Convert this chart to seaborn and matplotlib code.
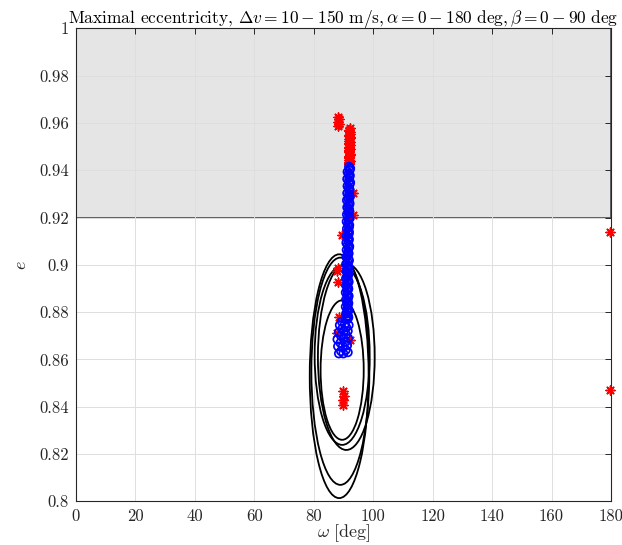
import matplotlib
matplotlib.use("Agg")
import matplotlib.pyplot as plt
import numpy as np
import pandas as pd
import seaborn as sns
from matplotlib.patches import Ellipse
from matplotlib.ticker import FuncFormatter

# Boundary curves in the (omega, e) plane: centre, full width, full height
ell_omega = [88.6, 89.0, 89.6, 91.0, 89.6]
ell_e = [0.8529, 0.8550, 0.8617, 0.8611, 0.8555]
ell_width = [19.8, 19.5, 18.5, 19.1, 14.5]
ell_height = [0.1031, 0.0961, 0.0757, 0.0788, 0.0590]

# Cases flagged with red asterisks
red_omega = [88.2, 88.4, 88.1, 88.4, 88.3,
             92.3, 92.0, 92.2, 91.9, 92.1, 92.0, 91.8, 92.1, 91.9, 92.0, 91.8,
             92.1, 91.9, 92.0, 91.8, 92.0,
             91.8, 92.2, 91.9, 92.1, 91.8, 92.2, 92.0, 91.8, 92.2, 91.9, 92.1,
             91.8, 92.0, 92.2, 91.9,
             93.3, 93.3, 89.4, 88.3, 88.0, 88.3, 88.6, 87.7, 92.2,
             90.0, 90.1, 89.9, 90.0, 179.5, 179.5]
red_e = [0.9626, 0.9615, 0.9605, 0.9595, 0.9585,
         0.9577, 0.9565, 0.9555, 0.9545, 0.9535, 0.9525, 0.9515, 0.9505, 0.9495, 0.9485, 0.9475,
         0.9465, 0.9455, 0.9445, 0.9435, 0.9425,
         0.9571, 0.9560, 0.9550, 0.9540, 0.9530, 0.9520, 0.9510, 0.9500, 0.9490, 0.9480, 0.9470,
         0.9460, 0.9450, 0.9440, 0.9430,
         0.9302, 0.9211, 0.9126, 0.8985, 0.8975, 0.8929, 0.8781, 0.8710, 0.8682,
         0.8465, 0.8447, 0.8428, 0.8407, 0.9140, 0.8471]

# Cases drawn with blue circles
blue_omega = [91.9, 92.1, 91.8, 92.0, 91.9, 92.1, 91.8, 92.0, 91.9, 91.7, 92.0,
              91.8, 91.9, 91.7, 92.0, 91.8, 91.6, 91.9, 91.7, 91.8, 91.6, 91.7,
              91.5, 91.8, 91.6, 91.4, 91.7, 91.5, 91.6, 91.4, 91.5, 91.3, 91.6,
              91.4, 91.5, 91.3, 91.4, 91.6, 91.3, 91.5, 91.4, 91.3, 91.5, 91.4,
              92.3, 91.4, 92.2, 91.3, 92.3, 91.4, 92.1, 91.3, 92.2, 91.2, 92.1,
              91.3, 92.0, 91.2, 92.1, 91.1, 92.0, 91.2, 91.9, 91.1, 91.9, 91.0,
              92.0, 91.1, 91.8, 91.0, 91.9, 90.9, 91.8, 91.0, 91.7, 90.9, 91.8,
              90.9, 91.7, 90.8, 91.8, 90.9, 91.7, 90.8, 91.8, 90.9, 91.7,
              88.5, 90.0, 91.5, 88.2, 89.8, 91.3, 88.0, 90.0, 91.6,
              88.5, 90.2, 91.5, 88.8, 90.5, 91.8,
              89.2, 90.8, 89.0, 90.8, 89.2, 90.9, 89.6, 91.0, 89.5, 90.8]
blue_e = [0.9415, 0.9400, 0.9385, 0.9370, 0.9355, 0.9340, 0.9325, 0.9310, 0.9295, 0.9280, 0.9265,
          0.9250, 0.9235, 0.9220, 0.9205, 0.9190, 0.9175, 0.9160, 0.9145, 0.9130, 0.9115, 0.9100,
          0.9085, 0.9070, 0.9055, 0.9040, 0.9025, 0.9010, 0.8995, 0.8980, 0.8965, 0.8950, 0.8935,
          0.8920, 0.8905, 0.8890, 0.8875, 0.8860, 0.8845, 0.8830, 0.8815, 0.8800, 0.8785, 0.8770,
          0.9408, 0.9393, 0.9378, 0.9363, 0.9348, 0.9333, 0.9318, 0.9303, 0.9288, 0.9273, 0.9258,
          0.9243, 0.9228, 0.9213, 0.9198, 0.9183, 0.9168, 0.9153, 0.9138, 0.9123, 0.9108, 0.9093,
          0.9078, 0.9063, 0.9048, 0.9033, 0.9018, 0.9003, 0.8988, 0.8973, 0.8958, 0.8943, 0.8928,
          0.8913, 0.8898, 0.8883, 0.8868, 0.8853, 0.8838, 0.8823, 0.8808, 0.8793, 0.8778,
          0.8625, 0.8625, 0.8630, 0.8655, 0.8655, 0.8660, 0.8685, 0.8690, 0.8690,
          0.8715, 0.8720, 0.8720, 0.8745, 0.8750, 0.8745,
          0.8635, 0.8640, 0.8670, 0.8675, 0.8700, 0.8705, 0.8730, 0.8735, 0.8760, 0.8770]

e_limit = 0.92
x_ticks = [0, 20, 40, 60, 80, 100, 120, 140, 160, 180]
y_ticks = [0.8, 0.82, 0.84, 0.86, 0.88, 0.9, 0.92, 0.94, 0.96, 0.98, 1.0]

sns.set_theme(style="white")
plt.rcParams["font.family"] = ["cmr10", "DejaVu Serif"]
plt.rcParams["mathtext.fontset"] = "cm"
plt.rcParams["axes.formatter.use_mathtext"] = True

fig = plt.figure(figsize=(6.22, 5.45), dpi=100)
ax = fig.add_axes([0.1217, 0.0802, 0.8606, 0.8678])

# Forbidden region above the eccentricity limit
ax.axhspan(e_limit, 1.0, facecolor="#e5e5e5", edgecolor="#4a4a4a", linewidth=1.2, zorder=0.3)

for cx, cy, w, h in zip(ell_omega, ell_e, ell_width, ell_height):
    ax.add_patch(Ellipse((cx, cy), w, h, fill=False, edgecolor="black", linewidth=1.3, zorder=2))

red_df = pd.DataFrame({"omega": red_omega, "e": red_e})
blue_df = pd.DataFrame({"omega": blue_omega, "e": blue_e})

sns.scatterplot(data=red_df, x="omega", y="e", ax=ax, marker=(8, 2, 0), s=42,
                color="red", edgecolor="red", linewidth=1.1, zorder=3, clip_on=False)
sns.scatterplot(data=blue_df, x="omega", y="e", ax=ax, marker="o", s=34,
                zorder=4, linewidth=1.25)
blue_pts = ax.collections[-1]
blue_pts.set_facecolor("none")
blue_pts.set_edgecolor("blue")

ax.set_xlim(0, 180)
ax.set_ylim(0.8, 1.0)
ax.set_xticks(x_ticks)
ax.set_yticks(y_ticks)
ax.xaxis.set_major_formatter(FuncFormatter(lambda v, p: f"{v:g}"))
ax.yaxis.set_major_formatter(FuncFormatter(lambda v, p: f"{v:g}"))
ax.grid(True, color="#dedede", linewidth=0.7, zorder=0.5)
ax.set_axisbelow(True)
for sp in ax.spines.values():
    sp.set_visible(True)
    sp.set_color("#262626")
    sp.set_linewidth(0.8)
ax.tick_params(direction="in", length=4, width=0.7, colors="#262626",
               top=True, right=True, labeltop=False, labelright=False,
               labelsize=12, pad=5)
for lbl in ax.get_xticklabels() + ax.get_yticklabels():
    lbl.set_color("#262626")

ax.set_xlabel(r"$\omega\ [\mathrm{deg}]$", fontsize=13, labelpad=-1, color="#262626")
ax.set_ylabel(r"$e$", fontsize=13, labelpad=7, color="#262626")
ax.set_title(r"Maximal eccentricity, $\Delta v = 10 - 150\ \mathrm{m/s}, \alpha = 0 - 180\ \mathrm{deg}, \beta = 0 - 90\ \mathrm{deg}$",
             fontsize=12.5, pad=4, color="black")

fig.savefig("out.png", dpi=100)
